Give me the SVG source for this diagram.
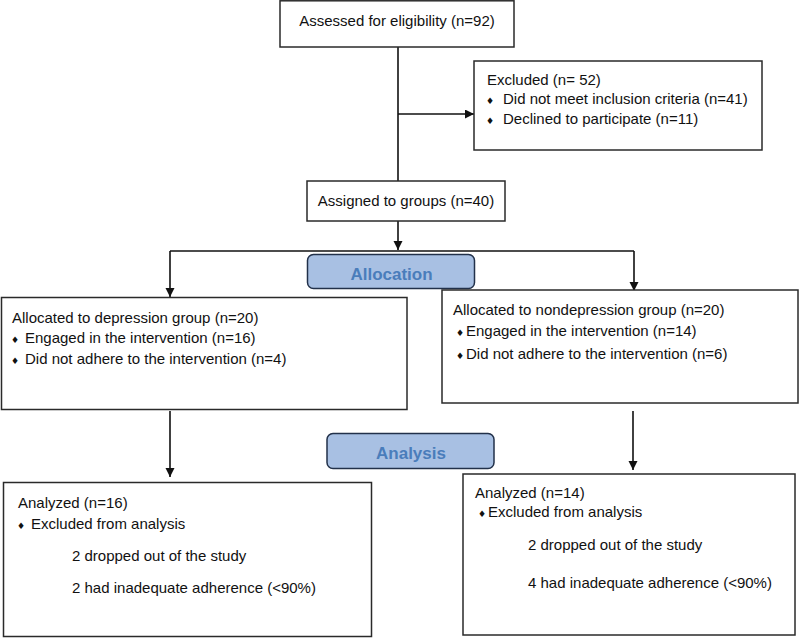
<svg xmlns="http://www.w3.org/2000/svg" width="800" height="638" viewBox="0 0 800 638">
<defs>
<style>
.box{fill:#fff;stroke:#2a2a2a;stroke-width:1.5}
.stage{fill:#a8c0e3;stroke:#22314a;stroke-width:1.5}
.t{font-family:"Liberation Sans",Arial,sans-serif;font-size:15px;fill:#111}
.c{text-anchor:middle}
.st{font-family:"Liberation Sans",Arial,sans-serif;font-size:17px;font-weight:bold;fill:#4a7dbb;text-anchor:middle}
.b{font-family:"DejaVu Sans",sans-serif;font-size:9px;fill:#111;text-anchor:middle}
.ln{stroke:#111;stroke-width:1.6;fill:none}
.arr{marker-end:url(#ah)}
</style>
<marker id="ah" markerUnits="userSpaceOnUse" markerWidth="10" markerHeight="10" refX="9" refY="4.5" orient="auto">
<path d="M0,0 L9,4.5 L0,9 Z" fill="#111"/>
</marker>
</defs>
<rect width="800" height="638" fill="#fff"/>
<g id="connectors">
<line class="ln" x1="398" y1="47" x2="398" y2="181"/>
<line class="ln arr" x1="398" y1="114" x2="474" y2="114"/>
<line class="ln arr" x1="398" y1="221" x2="398" y2="250"/>
<line class="ln" x1="170" y1="251" x2="634" y2="251"/>
<line class="ln arr" x1="170" y1="251" x2="170" y2="297"/>
<line class="ln arr" x1="634" y1="251" x2="634" y2="291"/>
<line class="ln arr" x1="170" y1="411" x2="170" y2="477"/>
<line class="ln arr" x1="633" y1="411" x2="633" y2="470"/>
</g>
<g id="assessed">
<rect class="box" x="280" y="0.8" width="234" height="46.2"/>
<text class="t c" x="397" y="26">Assessed for eligibility (n=92)</text>
</g>
<g id="excluded">
<rect class="box" x="474" y="61" width="288" height="89"/>
<text class="t" x="487" y="85">Excluded (n= 52)</text>
<text class="b" x="490" y="104">♦</text>
<text class="t" x="503" y="104">Did not meet inclusion criteria (n=41)</text>
<text class="b" x="490" y="124">♦</text>
<text class="t" x="503" y="124">Declined to participate (n=11)</text>
</g>
<g id="assigned">
<rect class="box" x="307" y="181" width="198" height="40"/>
<text class="t c" x="406" y="206">Assigned to groups (n=40)</text>
</g>
<g id="allocation">
<rect class="stage" x="307.5" y="254.5" width="167" height="34" rx="6"/>
<text class="st" x="391.5" y="279.5">Allocation</text>
</g>
<g id="depression">
<rect class="box" x="1.5" y="297.5" width="405.5" height="112"/>
<text class="t" x="12" y="323">Allocated to depression group (n=20)</text>
<text class="b" x="15" y="343">♦</text>
<text class="t" x="25" y="343">Engaged in the intervention (n=16)</text>
<text class="b" x="15" y="364">♦</text>
<text class="t" x="25" y="364">Did not adhere to the intervention (n=4)</text>
</g>
<g id="nondepression">
<rect class="box" x="442" y="290" width="356" height="113"/>
<text class="t" x="453" y="315">Allocated to nondepression group (n=20)</text>
<text class="b" x="460" y="336">♦</text>
<text class="t" x="466" y="336">Engaged in the intervention (n=14)</text>
<text class="b" x="460" y="359">♦</text>
<text class="t" x="466" y="359">Did not adhere to the intervention (n=6)</text>
</g>
<g id="analysis">
<rect class="stage" x="327" y="433.5" width="167" height="35" rx="6"/>
<text class="st" x="411" y="459">Analysis</text>
</g>
<g id="analyzed-left">
<rect class="box" x="3.5" y="482.5" width="368" height="154"/>
<text class="t" x="18" y="508">Analyzed (n=16)</text>
<text class="b" x="21" y="529">♦</text>
<text class="t" x="31" y="529">Excluded from analysis</text>
<text class="t" x="72" y="561">2 dropped out of the study</text>
<text class="t" x="72" y="593">2 had inadequate adherence (&lt;90%)</text>
</g>
<g id="analyzed-right">
<rect class="box" x="463" y="474" width="332" height="161"/>
<text class="t" x="475" y="498">Analyzed (n=14)</text>
<text class="b" x="482" y="517">♦</text>
<text class="t" x="488" y="517">Excluded from analysis</text>
<text class="t" x="528" y="550">2 dropped out of the study</text>
<text class="t" x="528" y="588">4 had inadequate adherence (&lt;90%)</text>
</g>
</svg>
